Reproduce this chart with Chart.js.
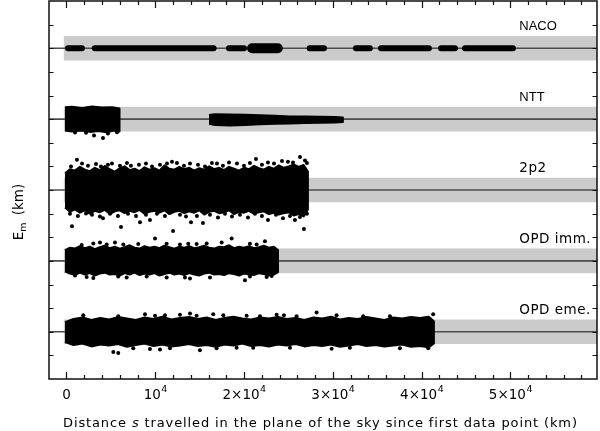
<!DOCTYPE html>
<html>
<head>
<meta charset="utf-8">
<script src="https://cdn.jsdelivr.net/npm/chart.js"></script>
<style>
  html, body { margin: 0; padding: 0; background: #fff; }
  canvas { display: block; }
</style>
</head>
<body>
<canvas id="c" width="600" height="431"></canvas>
<script>
// ---------------- data ----------------
const seriesNames = ['NACO', 'NTT', '2p2', 'OPD imm.', 'OPD eme.'];
const seriesLevels = [14, 11, 8, 5, 2];          // vertical offset of each series (tick units)
const bandHalfWidth = 0.52;                       // grey band half width (tick units)
const bandXRange = [-300, 59750];                 // km

const xMin = -1970, xMax = 59750, yMin = 0, yMax = 16;
const xMajorStep = 10000, xMinorStep = 2000;
const xTickValues = [0, 10000, 20000, 30000, 40000, 50000];
const xTickBase = ['0', '10', '2×10', '3×10', '4×10', '5×10'];
const xTickExp = ['', '4', '4', '4', '4', '4'];

// NACO: dense strings of points along the line, [start km, end km]
const nacoSegments = [[170, 1740], [3180, 16570], [18300, 20000], [27390, 29000], [32600, 34170], [35420, 40820], [42180, 43750], [44880, 50280]];
const nacoClumps = [[20900, 23800]];

// NTT: [km, residual]
const nttBlockUpper = [[-170, 0.50], [620, 0.52], [1750, 0.47], [2870, 0.53], [4000, 0.49], [5120, 0.50], [5970, 0.45]];
const nttBlockLower = [[5970, -0.52], [5350, -0.48], [4560, -0.56], [3550, -0.50], [2650, -0.54], [1630, -0.48], [620, -0.52], [-170, -0.48]];
const nttDots = [[960, -0.57], [2200, -0.58], [3100, -0.69], [4110, -0.80], [4670, -0.61], [5690, -0.56]];
const nttStripUpper = [[16050, 0.18], [16720, 0.21], [18410, 0.20], [20100, 0.18], [21790, 0.16], [23480, 0.14], [25170, 0.11], [26860, 0.11], [28540, 0.10], [30230, 0.09], [31130, 0.07]];
const nttStripLower = [[31130, -0.12], [30230, -0.14], [28540, -0.15], [26860, -0.16], [25170, -0.18], [23480, -0.20], [21790, -0.22], [20100, -0.25], [18410, -0.27], [16720, -0.25], [16050, -0.20]];

// 2p2 envelope of the dense cloud
const p2EdgeX = [-170, 390, 950, 1510, 2070, 2630, 3190, 3750, 4310, 4870, 5430, 5990, 6550, 7110, 7670, 8230, 8790, 9350, 9910, 10470, 11030, 11590, 12150, 12710, 13270, 13830, 14390, 14950, 15510, 16070, 16630, 17190, 17750, 18310, 18870, 19430, 19990, 20550, 21110, 21670, 22230, 22790, 23350, 23910, 24470, 25030, 25590, 26150, 26710, 27190];
const p2Top = [0.70, 0.88, 0.82, 0.98, 0.86, 0.80, 0.94, 0.84, 1.02, 0.88, 0.78, 0.92, 1.00, 0.84, 0.90, 0.80, 0.96, 0.86, 0.92, 0.82, 1.04, 0.90, 0.86, 0.98, 0.88, 0.94, 0.82, 0.92, 0.86, 1.00, 0.88, 0.94, 0.84, 0.98, 0.90, 0.82, 0.94, 0.88, 1.02, 0.92, 0.86, 0.98, 0.90, 1.04, 0.94, 1.00, 1.08, 0.98, 1.06, 0.78];
const p2Bottom = [-0.74, -0.92, -0.82, -0.96, -0.86, -1.00, -0.88, -0.94, -0.84, -1.02, -0.90, -0.86, -0.98, -0.88, -0.94, -0.84, -1.00, -0.92, -0.88, -0.96, -0.86, -1.02, -0.92, -0.88, -0.98, -0.90, -0.96, -0.86, -1.04, -0.92, -0.88, -0.98, -0.94, -0.86, -1.02, -0.92, -0.96, -0.88, -1.00, -0.94, -0.90, -1.02, -0.96, -1.04, -0.98, -0.94, -1.08, -1.02, -1.12, -0.82];
const p2Dots = [[510, 0.99], [1180, 1.28], [1750, 1.12], [2420, 1.03], [3320, 1.10], [3880, 0.99], [4670, 1.07], [5120, 1.12], [6020, 1.03], [6810, 1.14], [7260, 1.03], [8160, 1.07], [8950, 1.12], [9630, 0.99], [10530, 1.07], [11320, 1.12], [11880, 1.20], [12440, 1.14], [13230, 1.03], [13910, 1.12], [14810, 1.07], [15600, 0.99], [16380, 1.14], [16950, 1.12], [17620, 1.03], [18300, 1.16], [19200, 1.12], [19990, 1.03], [20660, 1.14], [21340, 1.31], [22010, 1.07], [22690, 1.16], [23370, 1.12], [24270, 1.23], [24940, 1.20], [25510, 1.16], [26300, 1.40], [26860, 1.25], [27080, 1.14],
  [390, -1.01], [620, -1.53], [1290, -1.10], [2200, -0.99], [2870, -1.05], [3770, -1.12], [4110, -1.20], [4900, -1.01], [5800, -1.10], [6140, -1.57], [6930, -1.01], [7830, -1.10], [8280, -1.36], [8950, -1.05], [9400, -1.27], [10190, -1.01], [11090, -1.10], [12000, -1.74], [12780, -1.05], [13460, -1.12], [14020, -1.36], [14690, -1.10], [15370, -1.40], [16160, -1.05], [17060, -1.16], [17850, -1.01], [18640, -1.12], [19540, -1.05], [20440, -1.16], [21230, -1.01], [22010, -1.10], [22690, -1.27], [23590, -1.05], [24380, -1.20], [25170, -1.10], [25730, -1.27], [26300, -1.14], [26740, -1.65], [27080, -1.01]];

// OPD imm.
const immEdgeX = [-170, 390, 950, 1510, 2070, 2630, 3190, 3750, 4310, 4870, 5430, 5990, 6550, 7110, 7670, 8230, 8790, 9350, 9910, 10470, 11030, 11590, 12150, 12710, 13270, 13830, 14390, 14950, 15510, 16070, 16630, 17190, 17750, 18310, 18870, 19430, 19990, 20550, 21110, 21670, 22230, 22790, 23350, 23820];
const immTop = [0.44, 0.56, 0.52, 0.62, 0.54, 0.60, 0.50, 0.58, 0.64, 0.54, 0.60, 0.52, 0.58, 0.66, 0.56, 0.52, 0.62, 0.56, 0.60, 0.54, 0.64, 0.58, 0.52, 0.60, 0.56, 0.62, 0.54, 0.58, 0.64, 0.56, 0.52, 0.60, 0.58, 0.66, 0.54, 0.60, 0.56, 0.62, 0.54, 0.58, 0.64, 0.56, 0.60, 0.46];
const immBottom = [-0.44, -0.54, -0.60, -0.50, -0.58, -0.52, -0.62, -0.54, -0.50, -0.58, -0.56, -0.62, -0.52, -0.58, -0.50, -0.60, -0.54, -0.58, -0.52, -0.62, -0.56, -0.50, -0.58, -0.54, -0.60, -0.52, -0.58, -0.62, -0.54, -0.50, -0.58, -0.56, -0.60, -0.52, -0.56, -0.62, -0.54, -0.58, -0.60, -0.52, -0.56, -0.62, -0.58, -0.48];
const immDots = [[1710, 0.67], [3020, 0.74], [3770, 0.78], [4530, 0.69], [5460, 0.78], [6400, 0.69], [8080, 0.71], [9970, 0.95], [11280, 0.72], [12780, 0.69], [13710, 0.73], [14660, 0.71], [15790, 0.74], [17480, 0.78], [18600, 0.95], [20660, 0.73], [21420, 0.69], [22350, 0.83],
  [960, -0.62], [2270, -0.68], [3020, -0.72], [5830, -0.66], [6780, -0.70], [9030, -0.66], [11280, -0.70], [13340, -0.70], [13910, -0.75], [16160, -0.70], [20100, -0.82], [20660, -0.66], [22540, -0.68], [23110, -0.64]];

// OPD eme.
const emeEdgeX = [-170, 800, 1800, 2800, 3800, 4800, 5800, 6800, 7800, 8800, 9800, 10800, 11800, 12800, 13800, 14800, 15800, 16800, 17800, 18800, 19800, 20800, 21800, 22800, 23800, 24800, 25800, 26800, 27800, 28800, 29800, 30800, 31800, 32800, 33800, 34800, 35800, 36800, 37800, 38800, 39800, 40800, 41380];
const emeTop = [0.40, 0.54, 0.60, 0.50, 0.58, 0.52, 0.62, 0.56, 0.50, 0.60, 0.54, 0.64, 0.52, 0.58, 0.62, 0.54, 0.60, 0.50, 0.58, 0.64, 0.56, 0.52, 0.60, 0.56, 0.62, 0.54, 0.58, 0.50, 0.60, 0.56, 0.64, 0.52, 0.58, 0.54, 0.62, 0.56, 0.50, 0.60, 0.56, 0.62, 0.58, 0.64, 0.44];
const emeBottom = [-0.44, -0.56, -0.50, -0.62, -0.54, -0.58, -0.52, -0.64, -0.56, -0.50, -0.60, -0.54, -0.62, -0.58, -0.52, -0.60, -0.56, -0.64, -0.54, -0.58, -0.50, -0.60, -0.56, -0.62, -0.54, -0.58, -0.52, -0.62, -0.56, -0.60, -0.54, -0.64, -0.58, -0.52, -0.60, -0.56, -0.62, -0.58, -0.54, -0.64, -0.60, -0.66, -0.50];
const emeDots = [[1890, 0.70], [5830, 0.66], [8840, 0.74], [9970, 0.68], [11090, 0.70], [12780, 0.72], [13910, 0.77], [14660, 0.68], [16530, 0.74], [17660, 0.70], [20290, 0.68], [21790, 0.66], [23670, 0.72], [24490, 0.70], [25920, 0.66], [28170, 0.81], [30420, 0.70], [33420, 0.66], [36430, 0.66], [41300, 0.74],
  [5270, -0.86], [5830, -0.90], [7520, -0.70], [9400, -0.73], [10530, -0.75], [11650, -0.70], [15030, -0.78], [16910, -0.70], [19160, -0.68], [21030, -0.68], [25170, -0.68], [29860, -0.72], [31920, -0.68], [37550, -0.70], [40740, -0.70]];

// ---------------- build datasets ----------------
const toPts = (arr, level) => arr.map(([x, r]) => ({ x, y: level + r }));
const envelope = (xs, top, bottom) => xs.map((x, i) => [x, top[i]]).concat(xs.map((x, i) => [x, bottom[i]]).reverse());
const datasets = [];

seriesLevels.forEach(level => {
  datasets.push({
    data: [{ x: bandXRange[0], y: level + bandHalfWidth }, { x: bandXRange[1], y: level + bandHalfWidth },
           { x: bandXRange[1], y: level - bandHalfWidth }, { x: bandXRange[0], y: level - bandHalfWidth }],
    showLine: true, fill: 'shape', backgroundColor: '#cbcbcb', borderColor: 'rgba(0,0,0,0)', borderWidth: 0,
    pointRadius: 0, order: 6
  });
  datasets.push({
    data: [{ x: xMin, y: level }, { x: xMax, y: level }],
    showLine: true, fill: false, borderColor: '#4d4d4d', borderWidth: 1.6, pointRadius: 0, order: 5
  });
});

function cloud(poly, level) {
  datasets.push({
    data: toPts(poly, level),
    showLine: true, fill: 'shape', backgroundColor: '#000', borderColor: '#000', borderWidth: 2,
    borderJoinStyle: 'round', pointRadius: 0, tension: 0, order: 2
  });
}
function dots(arr, level) {
  datasets.push({
    data: toPts(arr, level), showLine: false, pointRadius: 2, pointBackgroundColor: '#000',
    pointBorderWidth: 0, order: 1
  });
}

nacoSegments.forEach(([a, b]) => datasets.push({
  data: [{ x: a, y: seriesLevels[0] }, { x: b, y: seriesLevels[0] }],
  showLine: true, fill: false, borderColor: '#000', borderWidth: 6, borderCapStyle: 'round', pointRadius: 0, order: 2
}));
nacoClumps.forEach(([a, b]) => datasets.push({
  data: [{ x: a, y: seriesLevels[0] }, { x: b, y: seriesLevels[0] }],
  showLine: true, fill: false, borderColor: '#000', borderWidth: 10, borderCapStyle: 'round', pointRadius: 0, order: 2
}));

cloud(nttBlockUpper.concat(nttBlockLower), seriesLevels[1]);
dots(nttDots, seriesLevels[1]);
cloud(nttStripUpper.concat(nttStripLower), seriesLevels[1]);
cloud(envelope(p2EdgeX, p2Top, p2Bottom), seriesLevels[2]);
dots(p2Dots, seriesLevels[2]);
cloud(envelope(immEdgeX, immTop, immBottom), seriesLevels[3]);
dots(immDots, seriesLevels[3]);
cloud(envelope(emeEdgeX, emeTop, emeBottom), seriesLevels[4]);
dots(emeDots, seriesLevels[4]);

// ---------------- frame, ticks and texts ----------------
const framePlugin = {
  id: 'frame',
  afterDraw(chart) {
    const { ctx, chartArea: a, scales: { x, y } } = chart;
    ctx.save();
    ctx.strokeStyle = '#111';
    ctx.lineWidth = 1.5;
    ctx.strokeRect(a.left, a.top, a.right - a.left, a.bottom - a.top);
    ctx.lineWidth = 1.2;
    ctx.beginPath();
    for (let v = 0; v <= xMax; v += xMinorStep) {
      const px = Math.round(x.getPixelForValue(v)) + 0.5;
      const len = v % xMajorStep === 0 ? 7 : 4;
      ctx.moveTo(px, a.bottom); ctx.lineTo(px, a.bottom - len);
      ctx.moveTo(px, a.top); ctx.lineTo(px, a.top + len);
    }
    for (let v = yMin + 1; v < yMax; v++) {
      const py = Math.round(y.getPixelForValue(v)) + 0.5;
      ctx.moveTo(a.left, py); ctx.lineTo(a.left + 4.5, py);
      ctx.moveTo(a.right, py); ctx.lineTo(a.right - 4.5, py);
    }
    ctx.stroke();

    // tick labels
    ctx.fillStyle = '#000';
    ctx.textBaseline = 'alphabetic';
    ctx.textAlign = 'left';
    const baseFont = '13.5px "DejaVu Sans"', supFont = '9.5px "DejaVu Sans"';
    xTickValues.forEach((v, i) => {
      const px = x.getPixelForValue(v);
      ctx.font = baseFont; const wb = ctx.measureText(xTickBase[i]).width;
      ctx.font = supFont; const ws = xTickExp[i] ? ctx.measureText(xTickExp[i]).width : 0;
      const start = px - (wb + ws) / 2;
      ctx.font = baseFont; ctx.fillText(xTickBase[i], start, a.bottom + 20);
      if (xTickExp[i]) { ctx.font = supFont; ctx.fillText(xTickExp[i], start + wb + 0.5, a.bottom + 13); }
    });

    // x title
    const parts = [['Distance ', ''], ['s', 'italic '], [' travelled in the plane of the sky since first data point (km)', '']];
    const nChars = parts.reduce((s, p) => s + p[0].length, 0);
    let w = 0;
    parts.forEach(([t, st]) => { ctx.font = st + '13px "DejaVu Sans"'; w += ctx.measureText(t).width; });
    const ls = (515 - w) / nChars;
    ctx.letterSpacing = ls.toFixed(2) + 'px';
    let cx = 63;
    parts.forEach(([t, st]) => {
      ctx.font = st + '13px "DejaVu Sans"';
      ctx.fillText(t, cx, 427);
      cx += ctx.measureText(t).width;
    });
    ctx.letterSpacing = '0px';

    // y title  E_m (km)
    ctx.save();
    ctx.translate(19, 212);
    ctx.rotate(-Math.PI / 2);
    ctx.textBaseline = 'middle';
    ctx.font = '13.5px "DejaVu Sans"'; const wE = ctx.measureText('E').width;
    ctx.font = '9.5px "DejaVu Sans"'; const wm = ctx.measureText('m').width;
    ctx.font = '13.5px "DejaVu Sans"'; const wk = ctx.measureText(' (km)').width;
    let sx = -(wE + wm + wk + 3) / 2;
    ctx.fillText('E', sx, 0); sx += wE;
    ctx.font = '9.5px "DejaVu Sans"'; ctx.fillText('m', sx, 5); sx += wm + 3;
    ctx.font = '13.5px "DejaVu Sans"'; ctx.fillText(' (km)', sx, 0);
    ctx.restore();

    // series labels
    ctx.textBaseline = 'middle';
    seriesNames.forEach((name, i) => {
      const px = x.getPixelForValue(51000);
      const py = y.getPixelForValue(seriesLevels[i] + 0.92);
      if (i < 2) { ctx.font = '13px "Liberation Sans"'; ctx.letterSpacing = '0px'; }
      else { ctx.font = '13.5px "DejaVu Sans"'; ctx.letterSpacing = '0.5px'; }
      ctx.fillText(name, px, py);
    });
    ctx.letterSpacing = '0px';
    ctx.restore();
  }
};

new Chart(document.getElementById('c'), {
  type: 'scatter',
  data: { datasets },
  options: {
    responsive: false,
    animation: false,
    layout: { autoPadding: false, padding: { left: 49, right: 3, top: 1, bottom: 52 } },
    scales: {
      x: { type: 'linear', min: xMin, max: xMax, display: false },
      y: { type: 'linear', min: yMin, max: yMax, display: false }
    },
    plugins: { legend: { display: false }, tooltip: { enabled: false } },
    elements: { point: { radius: 0 } }
  },
  plugins: [framePlugin]
});
</script>
</body>
</html>
